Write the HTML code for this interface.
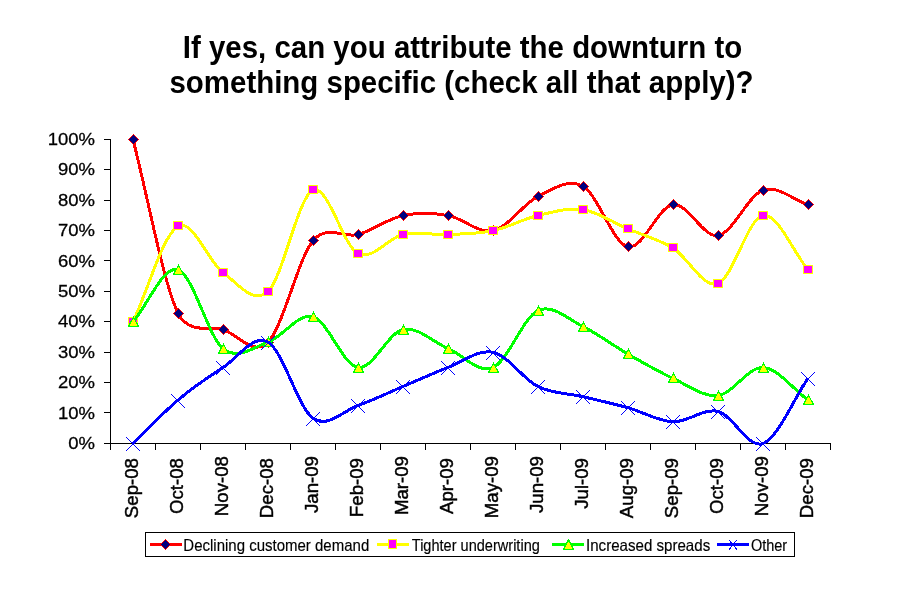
<!DOCTYPE html><html><head><meta charset="utf-8"><title>Chart</title><style>
html,body{margin:0;padding:0;background:#fff}
body{width:907px;height:590px;position:relative;overflow:hidden;font-family:"Liberation Sans",Arial,sans-serif;color:#000}
.t{position:absolute;left:0;width:907px;text-align:center;font-weight:bold;font-size:29.45px;line-height:36px;white-space:nowrap;transform-origin:50% 28px;transform:scaleY(1.05)}
.y{position:absolute;right:812px;font-size:18.5px;line-height:20px;white-space:nowrap;text-align:right;transform-origin:100% 50%;transform:scaleY(0.93);-webkit-text-stroke:0.3px #000}
.x{position:absolute;font-size:18.67px;-webkit-text-stroke:0.45px #000;line-height:20px;white-space:nowrap;transform-origin:0 0;transform:rotate(-90deg);text-align:right;width:80px}
.l{position:absolute;top:536.7px;font-size:15px;line-height:18px;white-space:nowrap;transform-origin:0 50%;transform:scaleY(1.08);-webkit-text-stroke:0.15px #000}
</style></head><body>
<svg width="907" height="590" viewBox="0 0 907 590" style="position:absolute;left:0;top:0">
<path d="M110.5 139 V444 M110 443.5 H831 M104 443.5 H110 M104 412.5 H110 M104 382.5 H110 M104 352.5 H110 M104 321.5 H110 M104 291.5 H110 M104 260.5 H110 M104 230.5 H110 M104 200.5 H110 M104 169.5 H110 M104 139.5 H110 M110.5 443 V450 M155.5 443 V450 M200.5 443 V450 M245.5 443 V450 M290.5 443 V450 M335.5 443 V450 M380.5 443 V450 M425.5 443 V450 M470.5 443 V450 M515.5 443 V450 M560.5 443 V450 M605.5 443 V450 M650.5 443 V450 M695.5 443 V450 M740.5 443 V450 M785.5 443 V450 M830.5 443 V450" stroke="#000" stroke-width="1" fill="none" shape-rendering="crispEdges"/>
<path d="M133.00 139.50 C148.00 197.40 163.00 281.55 178.00 313.21 C188.24 334.84 212.76 326.20 223.00 329.50 C238.00 334.33 253.00 356.94 268.00 342.17 C283.00 327.39 298.00 258.78 313.00 240.83 C327.57 223.40 343.43 238.60 358.00 234.50 C373.00 230.28 388.00 218.67 403.00 215.50 C418.00 212.33 433.00 212.97 448.00 215.50 C463.00 218.03 478.00 233.87 493.00 230.70 C508.00 227.53 523.00 203.91 538.00 196.50 C553.00 189.09 568.00 177.89 583.00 186.27 C598.00 194.65 613.00 243.73 628.00 246.79 C643.00 249.86 658.00 206.53 673.00 204.64 C688.00 202.76 703.00 237.91 718.00 235.50 C733.00 233.09 748.00 195.31 763.00 190.17 C778.00 185.02 793.00 199.82 808.00 204.64" stroke="#ff0000" stroke-width="3" fill="none" stroke-linejoin="round" shape-rendering="crispEdges"/>
<g shape-rendering="crispEdges"><path d="M133.5 134.2 l5.3 5.3 l-5.3 5.3 l-5.3 -5.3z" fill="#ff0000"/><path d="M133.5 135.1 l4.4 4.4 l-4.4 4.4 l-4.4 -4.4z" fill="#000080"/><path d="M178.5 308.2 l5.3 5.3 l-5.3 5.3 l-5.3 -5.3z" fill="#ff0000"/><path d="M178.5 309.1 l4.4 4.4 l-4.4 4.4 l-4.4 -4.4z" fill="#000080"/><path d="M223.5 324.2 l5.3 5.3 l-5.3 5.3 l-5.3 -5.3z" fill="#ff0000"/><path d="M223.5 325.1 l4.4 4.4 l-4.4 4.4 l-4.4 -4.4z" fill="#000080"/><path d="M268.5 337.2 l5.3 5.3 l-5.3 5.3 l-5.3 -5.3z" fill="#ff0000"/><path d="M268.5 338.1 l4.4 4.4 l-4.4 4.4 l-4.4 -4.4z" fill="#000080"/><path d="M313.5 235.2 l5.3 5.3 l-5.3 5.3 l-5.3 -5.3z" fill="#ff0000"/><path d="M313.5 236.1 l4.4 4.4 l-4.4 4.4 l-4.4 -4.4z" fill="#000080"/><path d="M358.5 229.2 l5.3 5.3 l-5.3 5.3 l-5.3 -5.3z" fill="#ff0000"/><path d="M358.5 230.1 l4.4 4.4 l-4.4 4.4 l-4.4 -4.4z" fill="#000080"/><path d="M403.5 210.2 l5.3 5.3 l-5.3 5.3 l-5.3 -5.3z" fill="#ff0000"/><path d="M403.5 211.1 l4.4 4.4 l-4.4 4.4 l-4.4 -4.4z" fill="#000080"/><path d="M448.5 210.2 l5.3 5.3 l-5.3 5.3 l-5.3 -5.3z" fill="#ff0000"/><path d="M448.5 211.1 l4.4 4.4 l-4.4 4.4 l-4.4 -4.4z" fill="#000080"/><path d="M493.5 225.2 l5.3 5.3 l-5.3 5.3 l-5.3 -5.3z" fill="#ff0000"/><path d="M493.5 226.1 l4.4 4.4 l-4.4 4.4 l-4.4 -4.4z" fill="#000080"/><path d="M538.5 191.2 l5.3 5.3 l-5.3 5.3 l-5.3 -5.3z" fill="#ff0000"/><path d="M538.5 192.1 l4.4 4.4 l-4.4 4.4 l-4.4 -4.4z" fill="#000080"/><path d="M583.5 181.2 l5.3 5.3 l-5.3 5.3 l-5.3 -5.3z" fill="#ff0000"/><path d="M583.5 182.1 l4.4 4.4 l-4.4 4.4 l-4.4 -4.4z" fill="#000080"/><path d="M628.5 241.2 l5.3 5.3 l-5.3 5.3 l-5.3 -5.3z" fill="#ff0000"/><path d="M628.5 242.1 l4.4 4.4 l-4.4 4.4 l-4.4 -4.4z" fill="#000080"/><path d="M673.5 199.2 l5.3 5.3 l-5.3 5.3 l-5.3 -5.3z" fill="#ff0000"/><path d="M673.5 200.1 l4.4 4.4 l-4.4 4.4 l-4.4 -4.4z" fill="#000080"/><path d="M718.5 230.2 l5.3 5.3 l-5.3 5.3 l-5.3 -5.3z" fill="#ff0000"/><path d="M718.5 231.1 l4.4 4.4 l-4.4 4.4 l-4.4 -4.4z" fill="#000080"/><path d="M763.5 185.2 l5.3 5.3 l-5.3 5.3 l-5.3 -5.3z" fill="#ff0000"/><path d="M763.5 186.1 l4.4 4.4 l-4.4 4.4 l-4.4 -4.4z" fill="#000080"/><path d="M808.5 199.2 l5.3 5.3 l-5.3 5.3 l-5.3 -5.3z" fill="#ff0000"/><path d="M808.5 200.1 l4.4 4.4 l-4.4 4.4 l-4.4 -4.4z" fill="#000080"/></g>
<path d="M133.00 321.90 C148.00 290.05 163.00 234.59 178.00 226.36 C193.00 218.12 208.00 261.64 223.00 272.50 C238.00 283.36 253.00 305.22 268.00 291.50 C283.00 277.78 298.00 196.50 313.00 190.17 C328.00 183.83 343.00 246.11 358.00 253.50 C373.00 260.89 388.00 237.67 403.00 234.50 C418.00 231.33 433.00 235.13 448.00 234.50 C463.00 233.87 478.00 233.87 493.00 230.70 C508.00 227.53 523.00 219.01 538.00 215.50 C553.00 211.99 568.00 207.42 583.00 209.65 C598.00 211.89 613.00 222.51 628.00 228.91 C643.00 235.31 658.00 238.97 673.00 248.07 C688.00 257.17 703.00 288.93 718.00 283.50 C733.00 278.07 748.00 217.79 763.00 215.50 C778.00 213.21 793.00 251.69 808.00 269.79" stroke="#ffff00" stroke-width="3" fill="none" stroke-linejoin="round" shape-rendering="crispEdges"/>
<g shape-rendering="crispEdges"><rect x="128" y="317" width="10" height="9" fill="#ffff00"/><rect x="129" y="318" width="8" height="7" fill="#ff00ff"/><rect x="173" y="221" width="10" height="9" fill="#ffff00"/><rect x="174" y="222" width="8" height="7" fill="#ff00ff"/><rect x="218" y="268" width="10" height="9" fill="#ffff00"/><rect x="219" y="269" width="8" height="7" fill="#ff00ff"/><rect x="263" y="287" width="10" height="9" fill="#ffff00"/><rect x="264" y="288" width="8" height="7" fill="#ff00ff"/><rect x="308" y="185" width="10" height="9" fill="#ffff00"/><rect x="309" y="186" width="8" height="7" fill="#ff00ff"/><rect x="353" y="249" width="10" height="9" fill="#ffff00"/><rect x="354" y="250" width="8" height="7" fill="#ff00ff"/><rect x="398" y="230" width="10" height="9" fill="#ffff00"/><rect x="399" y="231" width="8" height="7" fill="#ff00ff"/><rect x="443" y="230" width="10" height="9" fill="#ffff00"/><rect x="444" y="231" width="8" height="7" fill="#ff00ff"/><rect x="488" y="226" width="10" height="9" fill="#ffff00"/><rect x="489" y="227" width="8" height="7" fill="#ff00ff"/><rect x="533" y="211" width="10" height="9" fill="#ffff00"/><rect x="534" y="212" width="8" height="7" fill="#ff00ff"/><rect x="578" y="205" width="10" height="9" fill="#ffff00"/><rect x="579" y="206" width="8" height="7" fill="#ff00ff"/><rect x="623" y="224" width="10" height="9" fill="#ffff00"/><rect x="624" y="225" width="8" height="7" fill="#ff00ff"/><rect x="668" y="243" width="10" height="9" fill="#ffff00"/><rect x="669" y="244" width="8" height="7" fill="#ff00ff"/><rect x="713" y="279" width="10" height="9" fill="#ffff00"/><rect x="714" y="280" width="8" height="7" fill="#ff00ff"/><rect x="758" y="211" width="10" height="9" fill="#ffff00"/><rect x="759" y="212" width="8" height="7" fill="#ff00ff"/><rect x="803" y="265" width="10" height="9" fill="#ffff00"/><rect x="804" y="266" width="8" height="7" fill="#ff00ff"/></g>
<path d="M133.00 321.90 C148.00 304.53 163.00 265.35 178.00 269.79 C193.00 274.22 208.00 336.44 223.00 348.50 C238.00 360.56 253.00 347.44 268.00 342.17 C283.00 336.89 298.00 312.61 313.00 316.83 C328.00 321.06 343.00 365.39 358.00 367.50 C373.00 369.61 388.00 332.67 403.00 329.50 C418.00 326.33 433.00 342.17 448.00 348.50 C463.00 354.83 478.00 373.83 493.00 367.50 C508.00 361.17 523.00 317.32 538.00 310.50 C553.00 303.68 568.00 319.31 583.00 326.58 C598.00 333.84 613.00 345.46 628.00 354.09 C643.00 362.72 658.00 371.46 673.00 378.36 C688.00 385.26 703.00 397.31 718.00 395.50 C733.00 393.69 748.00 366.74 763.00 367.50 C778.00 368.26 793.00 389.21 808.00 400.07" stroke="#00ff00" stroke-width="3" fill="none" stroke-linejoin="round" shape-rendering="crispEdges"/>
<g shape-rendering="crispEdges"><path d="M133.5 316 l6 11 h-12z" fill="#00ff00"/><path d="M133.5 318.5 l4 7.5 h-8z" fill="#ffff00"/><path d="M178.5 264 l6 11 h-12z" fill="#00ff00"/><path d="M178.5 266.5 l4 7.5 h-8z" fill="#ffff00"/><path d="M223.5 343 l6 11 h-12z" fill="#00ff00"/><path d="M223.5 345.5 l4 7.5 h-8z" fill="#ffff00"/><path d="M268.5 336 l6 11 h-12z" fill="#00ff00"/><path d="M268.5 338.5 l4 7.5 h-8z" fill="#ffff00"/><path d="M313.5 311 l6 11 h-12z" fill="#00ff00"/><path d="M313.5 313.5 l4 7.5 h-8z" fill="#ffff00"/><path d="M358.5 362 l6 11 h-12z" fill="#00ff00"/><path d="M358.5 364.5 l4 7.5 h-8z" fill="#ffff00"/><path d="M403.5 324 l6 11 h-12z" fill="#00ff00"/><path d="M403.5 326.5 l4 7.5 h-8z" fill="#ffff00"/><path d="M448.5 343 l6 11 h-12z" fill="#00ff00"/><path d="M448.5 345.5 l4 7.5 h-8z" fill="#ffff00"/><path d="M493.5 362 l6 11 h-12z" fill="#00ff00"/><path d="M493.5 364.5 l4 7.5 h-8z" fill="#ffff00"/><path d="M538.5 305 l6 11 h-12z" fill="#00ff00"/><path d="M538.5 307.5 l4 7.5 h-8z" fill="#ffff00"/><path d="M583.5 321 l6 11 h-12z" fill="#00ff00"/><path d="M583.5 323.5 l4 7.5 h-8z" fill="#ffff00"/><path d="M628.5 348 l6 11 h-12z" fill="#00ff00"/><path d="M628.5 350.5 l4 7.5 h-8z" fill="#ffff00"/><path d="M673.5 372 l6 11 h-12z" fill="#00ff00"/><path d="M673.5 374.5 l4 7.5 h-8z" fill="#ffff00"/><path d="M718.5 390 l6 11 h-12z" fill="#00ff00"/><path d="M718.5 392.5 l4 7.5 h-8z" fill="#ffff00"/><path d="M763.5 362 l6 11 h-12z" fill="#00ff00"/><path d="M763.5 364.5 l4 7.5 h-8z" fill="#ffff00"/><path d="M808.5 394 l6 11 h-12z" fill="#00ff00"/><path d="M808.5 396.5 l4 7.5 h-8z" fill="#ffff00"/></g>
<path d="M133.00 443.50 C148.00 429.02 163.00 412.74 178.00 400.07 C193.00 387.40 208.00 377.15 223.00 367.50 C238.00 357.85 253.00 333.72 268.00 342.17 C283.00 350.61 298.00 407.61 313.00 418.17 C328.00 428.72 343.00 410.78 358.00 405.50 C373.00 400.22 388.00 392.83 403.00 386.50 C418.00 380.17 433.00 373.20 448.00 367.50 C463.00 361.80 478.00 349.13 493.00 352.30 C508.00 355.47 523.00 379.09 538.00 386.50 C553.00 393.91 568.00 393.19 583.00 396.73 C598.00 400.27 613.00 403.56 628.00 407.74 C643.00 411.91 658.00 421.16 673.00 421.79 C688.00 422.41 703.00 407.88 718.00 411.50 C733.00 415.12 748.00 449.02 763.00 443.50 C778.00 437.98 793.00 400.07 808.00 378.36" stroke="#0000ff" stroke-width="3" fill="none" stroke-linejoin="round" shape-rendering="crispEdges"/>
<g shape-rendering="crispEdges"><path d="M126.5 437.5 l13 13 M139.5 437.5 l-13 13" fill="none" stroke="#0000ff" stroke-width="1" stroke-linecap="square"/><path d="M171.5 394.5 l13 13 M184.5 394.5 l-13 13" fill="none" stroke="#0000ff" stroke-width="1" stroke-linecap="square"/><path d="M216.5 361.5 l13 13 M229.5 361.5 l-13 13" fill="none" stroke="#0000ff" stroke-width="1" stroke-linecap="square"/><path d="M261.5 336.5 l13 13 M274.5 336.5 l-13 13" fill="none" stroke="#0000ff" stroke-width="1" stroke-linecap="square"/><path d="M306.5 412.5 l13 13 M319.5 412.5 l-13 13" fill="none" stroke="#0000ff" stroke-width="1" stroke-linecap="square"/><path d="M351.5 399.5 l13 13 M364.5 399.5 l-13 13" fill="none" stroke="#0000ff" stroke-width="1" stroke-linecap="square"/><path d="M396.5 380.5 l13 13 M409.5 380.5 l-13 13" fill="none" stroke="#0000ff" stroke-width="1" stroke-linecap="square"/><path d="M441.5 361.5 l13 13 M454.5 361.5 l-13 13" fill="none" stroke="#0000ff" stroke-width="1" stroke-linecap="square"/><path d="M486.5 346.5 l13 13 M499.5 346.5 l-13 13" fill="none" stroke="#0000ff" stroke-width="1" stroke-linecap="square"/><path d="M531.5 380.5 l13 13 M544.5 380.5 l-13 13" fill="none" stroke="#0000ff" stroke-width="1" stroke-linecap="square"/><path d="M576.5 390.5 l13 13 M589.5 390.5 l-13 13" fill="none" stroke="#0000ff" stroke-width="1" stroke-linecap="square"/><path d="M621.5 401.5 l13 13 M634.5 401.5 l-13 13" fill="none" stroke="#0000ff" stroke-width="1" stroke-linecap="square"/><path d="M666.5 415.5 l13 13 M679.5 415.5 l-13 13" fill="none" stroke="#0000ff" stroke-width="1" stroke-linecap="square"/><path d="M711.5 405.5 l13 13 M724.5 405.5 l-13 13" fill="none" stroke="#0000ff" stroke-width="1" stroke-linecap="square"/><path d="M756.5 437.5 l13 13 M769.5 437.5 l-13 13" fill="none" stroke="#0000ff" stroke-width="1" stroke-linecap="square"/><path d="M801.5 372.5 l13 13 M814.5 372.5 l-13 13" fill="none" stroke="#0000ff" stroke-width="1" stroke-linecap="square"/></g>
<rect x="145.5" y="532.5" width="649" height="24" fill="#fff" stroke="#000" stroke-width="1" shape-rendering="crispEdges"/>
<path d="M150 544.5 h32" stroke="#ff0000" stroke-width="3" shape-rendering="crispEdges"/>
<path d="M377 544.5 h32" stroke="#ffff00" stroke-width="3" shape-rendering="crispEdges"/>
<path d="M552 544.5 h32" stroke="#00ff00" stroke-width="3" shape-rendering="crispEdges"/>
<path d="M717 544.5 h32" stroke="#0000ff" stroke-width="3" shape-rendering="crispEdges"/>
<g shape-rendering="crispEdges"><path d="M165.5 538.7 l5.3 5.8 l-5.3 5.8 l-5.3 -5.8z" fill="#ff0000"/><path d="M165.5 539.7 l4.4 4.8 l-4.4 4.8 l-4.4 -4.8z" fill="#000080"/><rect x="388" y="539" width="9" height="10" fill="#ffff00"/><rect x="389" y="540" width="7" height="8" fill="#ff00ff"/><path d="M568.5 538.5 l6 11.5 h-12z" fill="#00ff00"/><path d="M568.5 541.5 l4 7.5 h-8z" fill="#ffff00"/><path d="M729.5 540.5 l7 8.5 M736.5 540.5 l-7 8.5" fill="none" stroke="#0000ff" stroke-width="1" stroke-linecap="square"/></g>
</svg>
<div class="t" style="top:30px;left:9px">If yes, can you attribute the downturn to</div>
<div class="t" style="top:65.4px;left:8px">something specific (check all that apply)?</div>
<div class="y" style="top:433.0px">0%</div>
<div class="y" style="top:402.6px">10%</div>
<div class="y" style="top:372.2px">20%</div>
<div class="y" style="top:341.8px">30%</div>
<div class="y" style="top:311.4px">40%</div>
<div class="y" style="top:281.0px">50%</div>
<div class="y" style="top:250.6px">60%</div>
<div class="y" style="top:220.2px">70%</div>
<div class="y" style="top:189.8px">80%</div>
<div class="y" style="top:159.4px">90%</div>
<div class="y" style="top:129.0px">100%</div>
<div class="x" style="left:121.5px;top:537.7px">Sep-08</div>
<div class="x" style="left:166.5px;top:537.7px">Oct-08</div>
<div class="x" style="left:211.5px;top:536.3px">Nov-08</div>
<div class="x" style="left:256.5px;top:537.7px">Dec-08</div>
<div class="x" style="left:301.5px;top:536.3px">Jan-09</div>
<div class="x" style="left:346.5px;top:537.7px">Feb-09</div>
<div class="x" style="left:391.5px;top:536.3px">Mar-09</div>
<div class="x" style="left:436.5px;top:537.7px">Apr-09</div>
<div class="x" style="left:481.5px;top:536.3px">May-09</div>
<div class="x" style="left:526.5px;top:536.3px">Jun-09</div>
<div class="x" style="left:571.5px;top:537.7px">Jul-09</div>
<div class="x" style="left:616.5px;top:537.7px">Aug-09</div>
<div class="x" style="left:661.5px;top:537.7px">Sep-09</div>
<div class="x" style="left:706.5px;top:537.7px">Oct-09</div>
<div class="x" style="left:751.5px;top:536.3px">Nov-09</div>
<div class="x" style="left:796.5px;top:537.7px">Dec-09</div>
<div class="l" style="left:183.3px;font-size:15.00px">Declining customer demand</div>
<div class="l" style="left:411.8px;font-size:14.55px">Tighter underwriting</div>
<div class="l" style="left:586.0px;font-size:15.10px">Increased spreads</div>
<div class="l" style="left:750.9px;font-size:14.50px">Other</div>
</body></html>
